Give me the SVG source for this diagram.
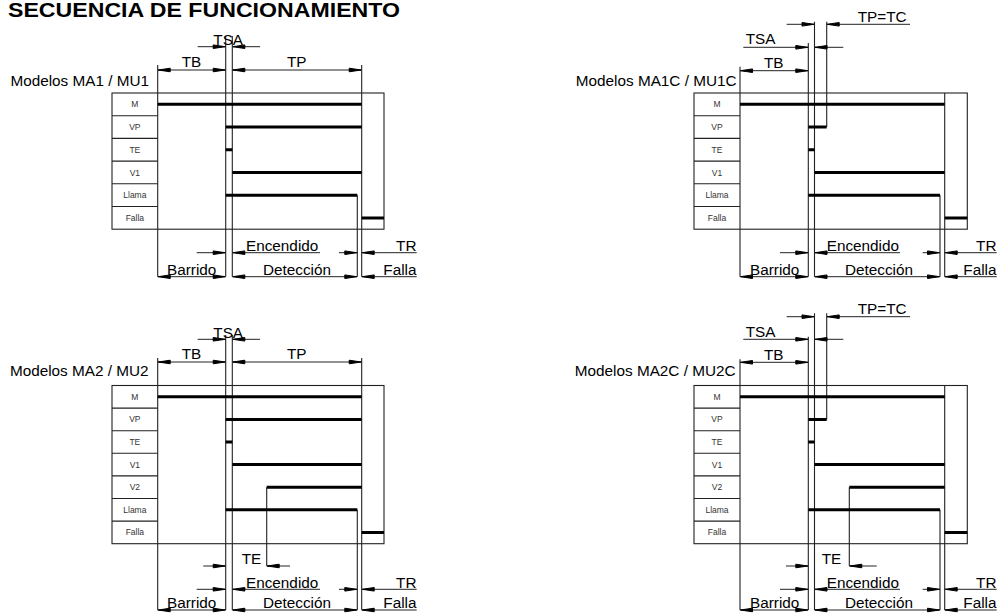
<svg xmlns="http://www.w3.org/2000/svg" width="1000" height="614" viewBox="0 0 1000 614">
<style>
.t{font-family:"Liberation Sans",Arial,sans-serif;font-size:15.3px;fill:#000}
.e{text-anchor:end}
.lbl{font-family:"Liberation Sans",Arial,sans-serif;font-size:8.5px;fill:#333;text-anchor:middle}
.ln{stroke:#222;stroke-width:1.1;fill:none}
.bar{stroke:#000;stroke-width:3;fill:none}
.dim{stroke:#222;stroke-width:1;fill:none}
.ah{fill:#000;stroke:#000;stroke-width:1;stroke-linejoin:round}
</style>
<rect width="1000" height="614" fill="#fff"/>
<text x="8" y="17" font-family="Liberation Sans,Arial,sans-serif" font-size="20.5" font-weight="bold" textLength="392" lengthAdjust="spacingAndGlyphs">SECUENCIA DE FUNCIONAMIENTO</text>

<!-- Top-left: MA1 / MU1 -->
<g id="ma1">
<rect x="112" y="93" width="272" height="136.2" class="ln"/>
<path class="ln" d="M112 115.7H157.7M112 138.4H157.7M112 161.1H157.7M112 183.8H157.7M112 206.5H157.7"/>
<path class="ln" d="M157.7 65V276.7M225.7 36V276.7M232.3 36V276.7M361.7 65V276.7M357.3 195.2V276.7"/>
<path class="bar" d="M157.7 104.3H361.7M225.7 127.1H361.7M225.7 149.8H232.3M232.3 172.5H361.7M225.7 195.2H357.3M361.7 217.9H384"/>
<g class="lbl"><text x="134.85" y="107.3">M</text><text x="134.85" y="130">VP</text><text x="134.85" y="152.8">TE</text><text x="134.85" y="175.5">V1</text><text x="134.85" y="198.2">Llama</text><text x="134.85" y="220.9">Falla</text></g>
<text class="t e" x="149" y="86">Modelos MA1 / MU1</text>
<text class="t" x="213.3" y="45">TSA</text>
<text class="t" x="181.7" y="67">TB</text>
<text class="t" x="287" y="67">TP</text>
<text class="t" x="246" y="251">Encendido</text>
<text class="t e" x="416.5" y="251">TR</text>
<text class="t" x="167" y="274.5">Barrido</text>
<text class="t" x="263" y="274.5">Detección</text>
<text class="t e" x="416.5" y="274.5">Falla</text>
</g>

<!-- Top-right: MA1C / MU1C -->
<g id="ma1c">
<rect x="694" y="93" width="273.3" height="136.2" class="ln"/>
<path class="ln" d="M694 115.7H740M694 138.4H740M694 161.1H740M694 183.8H740M694 206.5H740"/>
<path class="ln" d="M740 66.7V276.7M808.3 43V276.7M814.5 21.7V276.7M826.7 21.7V127.1M944.7 93V276.7M940 195.2V276.7"/>
<path class="bar" d="M740 104.3H944.7M808.3 127.1H826.7M808.3 149.8H814.5M814.5 172.5H944.7M808.3 195.2H940M944.7 217.9H967.3"/>
<g class="lbl"><text x="717" y="107.3">M</text><text x="717" y="130">VP</text><text x="717" y="152.8">TE</text><text x="717" y="175.5">V1</text><text x="717" y="198.2">Llama</text><text x="717" y="220.9">Falla</text></g>
<text class="t e" x="736.5" y="86">Modelos MA1C / MU1C</text>
<text class="t" x="857.7" y="21.5">TP=TC</text>
<text class="t" x="745.7" y="44">TSA</text>
<text class="t" x="764" y="67.5">TB</text>
<text class="t" x="826.7" y="251">Encendido</text>
<text class="t e" x="996.5" y="251">TR</text>
<text class="t" x="750" y="274.5">Barrido</text>
<text class="t" x="845" y="274.5">Detección</text>
<text class="t e" x="996.5" y="274.5">Falla</text>
</g>

<!-- Bottom-left: MA2 / MU2 -->
<g id="ma2">
<rect x="112" y="385.5" width="272" height="158.2" class="ln"/>
<path class="ln" d="M112 408.1H157.7M112 430.7H157.7M112 453.3H157.7M112 475.9H157.7M112 498.5H157.7M112 521.1H157.7"/>
<path class="ln" d="M157.7 358V610M225.7 335V610M232.3 335V610M361.7 358V610M357.3 509.8V610M266.7 487.2V566"/>
<path class="bar" d="M157.7 396.8H361.7M225.7 419.4H361.7M225.7 442H232.3M232.3 464.6H361.7M266.7 487.2H361.7M225.7 509.8H357.3M361.7 532.4H384"/>
<g class="lbl"><text x="134.85" y="399.8">M</text><text x="134.85" y="422.4">VP</text><text x="134.85" y="445">TE</text><text x="134.85" y="467.6">V1</text><text x="134.85" y="490.2">V2</text><text x="134.85" y="512.8">Llama</text><text x="134.85" y="535.4">Falla</text></g>
<text class="t e" x="148.5" y="376">Modelos MA2 / MU2</text>
<text class="t" x="213.3" y="337.8">TSA</text>
<text class="t" x="181.7" y="359">TB</text>
<text class="t" x="287" y="359">TP</text>
<text class="t" x="241.7" y="563.5">TE</text>
<text class="t" x="246" y="587.6">Encendido</text>
<text class="t e" x="416.5" y="587.6">TR</text>
<text class="t" x="167" y="608">Barrido</text>
<text class="t" x="263" y="608">Detección</text>
<text class="t e" x="416.5" y="608">Falla</text>
</g>

<!-- Bottom-right: MA2C / MU2C -->
<g id="ma2c">
<rect x="694" y="385.5" width="273.3" height="158.2" class="ln"/>
<path class="ln" d="M694 408.1H740M694 430.7H740M694 453.3H740M694 475.9H740M694 498.5H740M694 521.1H740"/>
<path class="ln" d="M740 359.3V610M808.3 336.7V610M814.5 313.3V610M826.7 313.3V419.4M944.7 385.5V610M940 509.8V610M849.3 487.2V566"/>
<path class="bar" d="M740 396.8H944.7M808.3 419.4H826.7M808.3 442H814.5M814.5 464.6H944.7M849.3 487.2H944.7M808.3 509.8H940M944.7 532.4H967.3"/>
<g class="lbl"><text x="717" y="399.8">M</text><text x="717" y="422.4">VP</text><text x="717" y="445">TE</text><text x="717" y="467.6">V1</text><text x="717" y="490.2">V2</text><text x="717" y="512.8">Llama</text><text x="717" y="535.4">Falla</text></g>
<text class="t e" x="735.5" y="376">Modelos MA2C / MU2C</text>
<text class="t" x="857.7" y="314">TP=TC</text>
<text class="t" x="745.7" y="337">TSA</text>
<text class="t" x="764" y="359.5">TB</text>
<text class="t" x="821.7" y="563.5">TE</text>
<text class="t" x="826.7" y="587.6">Encendido</text>
<text class="t e" x="996.5" y="587.6">TR</text>
<text class="t" x="750" y="608">Barrido</text>
<text class="t" x="845" y="608">Detección</text>
<text class="t e" x="996.5" y="608">Falla</text>
</g>

<!-- Connectors: dimension lines with arrowheads -->
<g id="connectors">
<path class="dim" d="M197.7 46.7H225.7M260 46.7H232.3M157.7 70H225.7M232.3 70H361.7M196.7 252.7H225.7M320 252.7H232.3M339 252.7H357.3M416.7 252.7H361.7M157.7 276.7H225.7M232.3 276.7H357.3M416.7 276.7H361.7"/>
<path class="dim" d="M786.7 24.3H814.5M910 24.3H826.7M743.3 47.3H808.3M843.3 47.3H814.5M740 70.7H808.3M780 252.7H808.3M900 252.7H814.5M922.7 252.7H940M996.7 252.7H944.7M740 276.7H808.3M814.5 276.7H940M996.7 276.7H944.7"/>
<path class="dim" d="M197.7 339.3H225.7M260 339.3H232.3M157.7 362H225.7M232.3 362H361.7M203.3 566H225.7M290 566H266.7M196.7 589.3H225.7M320 589.3H232.3M339 589.3H357.3M416.7 589.3H361.7M157.7 610H225.7M232.3 610H357.3M416.7 610H361.7"/>
<path class="dim" d="M786.7 316.7H814.5M910 316.7H826.7M743.3 339.3H808.3M843.3 339.3H814.5M740 362.3H808.3M786 566H808.3M876.7 566H849.3M780 589.3H808.3M900 589.3H814.5M922.7 589.3H940M996.7 589.3H944.7M740 610H808.3M814.5 610H940M996.7 610H944.7"/>
<path class="ah" d="M225.2 46.7l-12 -1.8v3.6zM232.8 46.7l12 -1.8v3.6zM158.2 70l12 -1.8v3.6zM225.2 70l-12 -1.8v3.6zM232.8 70l12 -1.8v3.6zM361.2 70l-12 -1.8v3.6zM225.2 252.7l-12 -1.8v3.6zM232.8 252.7l12 -1.8v3.6zM356.8 252.7l-12 -1.8v3.6zM362.2 252.7l12 -1.8v3.6zM158.2 276.7l12 -1.8v3.6zM225.2 276.7l-12 -1.8v3.6zM232.8 276.7l12 -1.8v3.6zM356.8 276.7l-12 -1.8v3.6zM362.2 276.7l12 -1.8v3.6z"/>
<path class="ah" d="M814 24.3l-12 -1.8v3.6zM827.2 24.3l12 -1.8v3.6zM807.8 47.3l-12 -1.8v3.6zM815 47.3l12 -1.8v3.6zM740.5 70.7l12 -1.8v3.6zM807.8 70.7l-12 -1.8v3.6zM807.8 252.7l-12 -1.8v3.6zM815 252.7l12 -1.8v3.6zM939.5 252.7l-12 -1.8v3.6zM945.2 252.7l12 -1.8v3.6zM740.5 276.7l12 -1.8v3.6zM807.8 276.7l-12 -1.8v3.6zM815 276.7l12 -1.8v3.6zM939.5 276.7l-12 -1.8v3.6zM945.2 276.7l12 -1.8v3.6z"/>
<path class="ah" d="M225.2 339.3l-12 -1.8v3.6zM232.8 339.3l12 -1.8v3.6zM158.2 362l12 -1.8v3.6zM225.2 362l-12 -1.8v3.6zM232.8 362l12 -1.8v3.6zM361.2 362l-12 -1.8v3.6zM225.2 566l-12 -1.8v3.6zM267.2 566l12 -1.8v3.6zM225.2 589.3l-12 -1.8v3.6zM232.8 589.3l12 -1.8v3.6zM356.8 589.3l-12 -1.8v3.6zM362.2 589.3l12 -1.8v3.6zM158.2 610l12 -1.8v3.6zM225.2 610l-12 -1.8v3.6zM232.8 610l12 -1.8v3.6zM356.8 610l-12 -1.8v3.6zM362.2 610l12 -1.8v3.6z"/>
<path class="ah" d="M814 316.7l-12 -1.8v3.6zM827.2 316.7l12 -1.8v3.6zM807.8 339.3l-12 -1.8v3.6zM815 339.3l12 -1.8v3.6zM740.5 362.3l12 -1.8v3.6zM807.8 362.3l-12 -1.8v3.6zM807.8 566l-12 -1.8v3.6zM849.8 566l12 -1.8v3.6zM807.8 589.3l-12 -1.8v3.6zM815 589.3l12 -1.8v3.6zM939.5 589.3l-12 -1.8v3.6zM945.2 589.3l12 -1.8v3.6zM740.5 610l12 -1.8v3.6zM807.8 610l-12 -1.8v3.6zM815 610l12 -1.8v3.6zM939.5 610l-12 -1.8v3.6zM945.2 610l12 -1.8v3.6z"/>
</g>
</svg>
